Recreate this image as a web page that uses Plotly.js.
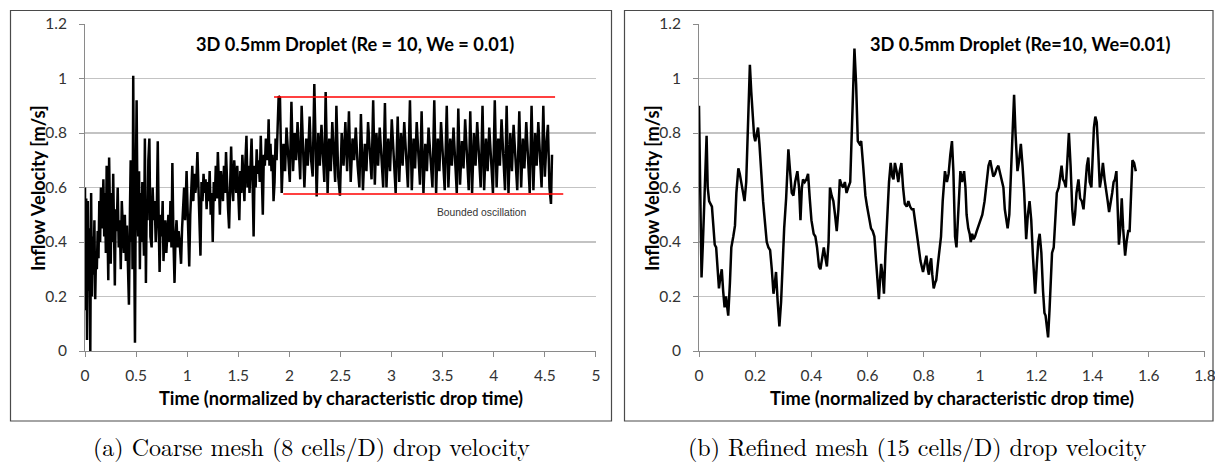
<!DOCTYPE html>
<html>
<head>
<meta charset="utf-8">
<script src="https://cdn.plot.ly/plotly-3.0.1.min.js"></script>
<style>html,body{margin:0;padding:0;background:#fff;}#chart{width:1215px;height:464px;}</style>
</head>
<body>
<div id="chart"></div>
<script>
// ---------- Data ----------
const chartTitleA = "3D 0.5mm Droplet (Re = 10, We = 0.01)";
const chartTitleB = "3D 0.5mm Droplet (Re=10, We=0.01)";
const xAxisTitle = "Time (normalized by characteristic drop time)";
const yAxisTitle = "Inflow Velocity [m/s]";
const captionA = "(a) Coarse mesh (8 cells/D) drop velocity";
const captionB = "(b) Refined mesh (15 cells/D) drop velocity";
const boundLabel = "Bounded oscillation";

const yTicks = [0, 0.2, 0.4, 0.6, 0.8, 1, 1.2];
const xTicksA = [0, 0.5, 1, 1.5, 2, 2.5, 3, 3.5, 4, 4.5, 5];
const xTicksB = [0, 0.2, 0.4, 0.6, 0.8, 1, 1.2, 1.4, 1.6, 1.8];

// Coarse mesh: time and velocity
const coarseTime = [
0.000,0.005,0.012,0.020,0.028,0.036,0.044,0.052,0.060,0.068,0.076,0.084,0.092,0.100,0.108,0.116,0.124,0.132,0.140,0.148,
0.156,0.164,0.172,0.180,0.188,0.196,0.204,0.212,0.220,0.228,0.236,0.244,0.252,0.260,0.268,0.276,0.284,0.292,0.300,0.310,
0.320,0.330,0.340,0.350,0.360,0.370,0.380,0.390,0.400,0.410,0.420,0.430,0.440,0.447,0.452,0.458,0.465,0.472,0.480,0.489,
0.497,0.505,0.513,0.521,0.529,0.537,0.545,0.553,0.561,0.569,0.577,0.586,0.596,0.604,0.612,0.620,0.630,0.640,0.652,0.662,
0.672,0.682,0.692,0.702,0.712,0.722,0.730,0.740,0.750,0.760,0.768,0.776,0.786,0.796,0.806,0.816,0.826,0.836,0.846,0.855,
0.866,0.876,0.886,0.896,0.906,0.916,0.926,0.940,0.950,0.960,0.970,0.980,0.994,1.004,1.012,1.020,1.030,1.040,1.050,1.060,
1.070,1.080,1.090,1.100,1.110,1.120,1.130,1.140,1.150,1.160,1.170,1.180,1.190,1.200,1.210,1.220,1.230,1.240,1.250,1.260,
1.270,1.280,1.290,1.300,1.310,1.320,1.330,1.340,1.350,1.360,1.370,1.380,1.390,1.400,1.410,1.420,1.430,1.440,1.450,1.460,
1.470,1.480,1.490,1.500,1.510,1.520,1.530,1.540,1.550,1.560,1.570,1.580,1.590,1.600,1.610,1.620,1.630,1.640,1.650,1.660,
1.670,1.680,1.690,1.700,1.710,1.720,1.730,1.740,1.750,1.760,1.770,1.780,1.790,1.797,1.805,1.815,1.825,1.835,1.845,1.855,
1.865,1.875,1.885,1.895,
1.908,1.925,1.942,1.958,1.972,1.988,2.004,
2.020,2.036,2.052,2.066,2.080,2.094,2.106,
2.120,2.147,2.165,2.180,2.198,2.213,2.228,
2.244,2.267,2.283,2.298,2.314,2.328,2.342,
2.355,2.374,2.390,2.405,2.420,2.435,2.448,
2.460,2.478,2.495,2.512,2.530,2.548,2.565,
2.583,2.600,2.618,2.634,2.650,2.668,2.685,
2.700,2.720,2.738,2.754,2.770,2.788,2.804,
2.820,2.836,2.852,2.868,2.884,2.900,2.918,
2.935,2.950,2.968,2.985,3.002,3.020,3.040,
3.060,3.075,3.092,3.108,3.124,3.142,3.160,
3.180,3.198,3.215,3.230,3.246,3.262,3.278,
3.294,3.312,3.330,3.346,3.362,3.380,3.400,
3.418,3.436,3.452,3.468,3.484,3.502,3.520,
3.540,3.556,3.574,3.590,3.606,3.622,3.638,
3.653,3.670,3.688,3.704,3.720,3.738,3.755,
3.770,3.788,3.806,3.822,3.838,3.855,3.872,
3.890,3.906,3.924,3.940,3.956,3.974,3.992,
4.010,4.028,4.044,4.060,4.076,4.094,4.110,
4.126,4.144,4.162,4.178,4.194,4.212,4.230,
4.250,4.268,4.285,4.300,4.318,4.336,4.352,
4.370,4.388,4.405,4.420,4.436,4.452,4.468,
4.485,4.500,4.515,4.530,4.545,4.560,4.570
];
const coarseVel = [
0.60,0.15,0.56,0.04,0.55,0.22,0.45,0.00,0.58,0.20,0.42,0.28,0.48,0.19,0.36,0.30,0.44,0.34,0.55,0.40,
0.60,0.45,0.50,0.63,0.42,0.58,0.36,0.68,0.45,0.26,0.71,0.50,0.32,0.58,0.40,0.65,0.30,0.24,0.52,0.44,
0.60,0.38,0.48,0.30,0.55,0.42,0.36,0.50,0.33,0.46,0.28,0.17,0.52,0.70,0.40,0.66,0.30,1.01,0.45,0.03,
0.60,0.92,0.55,0.42,0.66,0.30,0.58,0.40,0.62,0.45,0.35,0.78,0.25,0.55,0.48,0.70,0.78,0.42,0.38,0.60,
0.48,0.55,0.40,0.50,0.77,0.45,0.29,0.50,0.42,0.55,0.33,0.40,0.48,0.36,0.45,0.50,0.40,0.55,0.38,0.69,
0.40,0.25,0.42,0.48,0.38,0.44,0.40,0.32,0.45,0.55,0.60,0.48,0.66,0.52,0.40,0.31,0.50,0.60,0.68,0.55,
0.65,0.58,0.62,0.73,0.60,0.50,0.35,0.62,0.55,0.65,0.58,0.63,0.52,0.62,0.55,0.66,0.50,0.58,0.40,0.62,
0.55,0.68,0.56,0.73,0.58,0.50,0.66,0.60,0.55,0.68,0.58,0.73,0.60,0.52,0.45,0.65,0.75,0.60,0.55,0.70,
0.62,0.58,0.68,0.60,0.48,0.66,0.58,0.72,0.62,0.55,0.70,0.79,0.60,0.68,0.58,0.72,0.78,0.62,0.42,0.68,
0.60,0.74,0.65,0.70,0.62,0.79,0.66,0.50,0.72,0.68,0.78,0.70,0.74,0.85,0.68,0.76,0.66,0.72,0.55,0.62,
0.78,0.70,0.82,0.935,
0.93,0.58,0.76,0.66,0.82,0.70,0.62,
0.915,0.66,0.80,0.70,0.84,0.72,0.63,
0.90,0.60,0.78,0.68,0.86,0.70,0.64,
0.98,0.567,0.80,0.68,0.83,0.72,0.62,
0.95,0.58,0.78,0.66,0.84,0.70,0.62,
0.90,0.64,0.57,0.80,0.68,0.84,0.66,
0.88,0.62,0.78,0.70,0.82,0.68,0.60,
0.87,0.59,0.76,0.66,0.84,0.70,0.63,
0.92,0.61,0.80,0.68,0.82,0.72,0.60,
0.91,0.60,0.78,0.66,0.85,0.70,0.58,
0.86,0.62,0.80,0.68,0.84,0.70,0.60,
0.92,0.59,0.78,0.67,0.84,0.70,0.61,
0.88,0.58,0.76,0.66,0.82,0.70,0.60,
0.92,0.58,0.78,0.66,0.84,0.70,0.59,
0.90,0.60,0.78,0.68,0.82,0.70,0.58,
0.89,0.61,0.77,0.67,0.85,0.69,0.59,
0.88,0.58,0.80,0.68,0.84,0.72,0.60,
0.90,0.59,0.78,0.66,0.82,0.70,0.58,
0.92,0.60,0.78,0.68,0.85,0.70,0.59,
0.90,0.58,0.80,0.66,0.83,0.70,0.59,
0.88,0.60,0.78,0.67,0.84,0.70,0.58,
0.90,0.59,0.80,0.68,0.84,0.70,0.60,
0.90,0.64,0.76,0.83,0.60,0.54,0.72
];

// Refined mesh: time and velocity
const refinedTime = [
0.000,0.004,0.009,0.014,0.019,0.023,0.027,0.031,0.036,0.041,0.046,0.051,0.056,0.061,0.066,0.071,0.076,0.081,0.086,0.091,
0.096,0.100,0.104,0.110,0.115,0.122,0.128,0.133,0.140,0.145,0.150,0.156,0.162,0.168,0.174,0.181,0.186,0.191,0.196,0.200,
0.205,0.210,0.215,0.222,0.228,0.234,0.241,0.247,0.253,0.259,0.265,0.270,0.274,0.280,0.286,0.292,0.297,0.303,0.310,0.318,
0.324,0.330,0.336,0.342,0.350,0.356,0.361,0.366,0.370,0.376,0.382,0.388,0.394,0.400,0.408,0.414,0.420,0.427,0.432,0.438,
0.444,0.450,0.455,0.461,0.466,0.472,0.478,0.484,0.490,0.496,0.501,0.507,0.513,0.519,0.525,0.531,0.538,0.545,0.553,0.559,
0.565,0.571,0.577,0.584,0.592,0.598,0.605,0.612,0.618,0.624,0.630,0.636,0.640,0.644,0.648,0.653,0.658,0.663,0.669,0.676,
0.682,0.688,0.692,0.697,0.703,0.709,0.714,0.720,0.726,0.732,0.739,0.745,0.751,0.757,0.763,0.770,0.779,0.788,0.797,0.803,
0.809,0.814,0.818,0.822,0.826,0.830,0.835,0.840,0.844,0.850,0.856,0.861,0.867,0.875,0.882,0.888,0.894,0.900,0.905,0.911,
0.916,0.921,0.925,0.930,0.936,0.943,0.948,0.952,0.958,0.963,0.967,0.972,0.977,0.982,0.988,0.995,1.000,1.008,1.016,1.024,
1.030,1.036,1.042,1.047,1.053,1.059,1.065,1.071,1.077,1.083,1.088,1.093,1.098,1.104,1.110,1.116,1.121,1.126,1.133,1.139,
1.145,1.151,1.157,1.164,1.170,1.176,1.182,1.188,1.196,1.202,1.207,1.212,1.218,1.224,1.229,1.233,1.238,1.242,1.247,1.252,
1.256,1.262,1.268,1.273,1.280,1.285,1.290,1.295,1.300,1.305,1.310,1.316,1.322,1.328,1.333,1.338,1.343,1.350,1.356,1.362,
1.368,1.374,1.380,1.385,1.390,1.396,1.401,1.405,1.410,1.415,1.420,1.426,1.432,1.437,1.443,1.448,1.454,1.459,1.465,1.470,
1.475,1.480,1.485,1.490,1.494,1.499,1.504,1.509,1.516,1.521,1.527,1.532,1.537,1.542,1.548,1.554
];
const refinedVel = [
0.90,0.55,0.27,0.40,0.55,0.72,0.79,0.60,0.55,0.54,0.53,0.46,0.39,0.38,0.30,0.23,0.27,0.30,0.22,0.16,
0.20,0.15,0.13,0.25,0.38,0.42,0.46,0.58,0.67,0.65,0.62,0.58,0.55,0.62,0.85,1.05,0.95,0.86,0.79,0.77,
0.79,0.82,0.76,0.62,0.55,0.48,0.40,0.38,0.37,0.30,0.21,0.25,0.29,0.18,0.09,0.18,0.32,0.45,0.56,0.74,
0.66,0.58,0.57,0.62,0.66,0.60,0.48,0.60,0.63,0.62,0.63,0.65,0.56,0.48,0.43,0.42,0.38,0.31,0.30,0.35,
0.38,0.34,0.31,0.40,0.60,0.57,0.55,0.50,0.44,0.52,0.63,0.61,0.60,0.62,0.58,0.60,0.62,0.85,1.11,0.98,
0.77,0.76,0.77,0.68,0.57,0.53,0.49,0.45,0.44,0.42,0.33,0.22,0.19,0.26,0.32,0.28,0.21,0.35,0.50,0.62,
0.69,0.64,0.63,0.69,0.66,0.62,0.66,0.69,0.60,0.54,0.53,0.55,0.53,0.52,0.52,0.46,0.40,0.33,0.29,0.32,
0.35,0.30,0.28,0.32,0.34,0.28,0.23,0.25,0.26,0.32,0.38,0.42,0.55,0.66,0.62,0.65,0.72,0.77,0.66,0.42,
0.38,0.47,0.55,0.66,0.62,0.66,0.60,0.50,0.45,0.43,0.40,0.43,0.41,0.42,0.44,0.46,0.47,0.50,0.55,0.62,
0.68,0.70,0.66,0.64,0.65,0.67,0.68,0.65,0.62,0.60,0.52,0.48,0.45,0.50,0.65,0.85,0.94,0.80,0.66,0.70,
0.76,0.68,0.58,0.41,0.50,0.55,0.48,0.35,0.21,0.32,0.40,0.43,0.36,0.22,0.14,0.13,0.08,0.05,0.15,0.28,
0.36,0.38,0.48,0.58,0.60,0.64,0.68,0.63,0.62,0.60,0.68,0.80,0.68,0.52,0.46,0.50,0.58,0.63,0.56,0.55,
0.52,0.60,0.68,0.71,0.62,0.60,0.72,0.82,0.86,0.84,0.74,0.60,0.64,0.69,0.63,0.60,0.55,0.51,0.56,0.58,
0.62,0.63,0.66,0.52,0.39,0.45,0.56,0.45,0.35,0.40,0.44,0.44,0.58,0.70,0.69,0.66
];

// Bounds drawn in red on the coarse chart
const upperBoundT = [1.85, 4.60];
const upperBoundV = [0.932, 0.932];
const lowerBoundT = [1.94, 4.68];
const lowerBoundV = [0.576, 0.576];
const boundLabelPos = [3.88, 0.51];

// ---------- Layout helpers ----------
const W = 1215, H = 464;
const px = x => x / W;
const py = y => 1 - y / H;

const gridColor = '#c3c3c3';
const axisColor = '#8a8a8a';
const tickFont = {family: 'Lato, "Open Sans", sans-serif', size: 15.5, color: '#333'};
const boldFont = {family: 'Lato, "Open Sans", sans-serif', size: 18.2, color: '#000', weight: 'bold'};

function xAxis(domain, range, tickvals) {
  return {
    domain: domain, range: range, tickvals: tickvals, ticktext: tickvals.map(String),
    showgrid: false, zeroline: false, showline: true, linecolor: axisColor, linewidth: 1,
    ticks: 'outside', ticklen: 5, tickcolor: axisColor, tickwidth: 1,
    tickfont: tickFont, ticklabelstandoff: 5, ticklabeloverflow: 'allow', fixedrange: true
  };
}
function yAxis(domain, anchor) {
  return {
    domain: domain, range: [0, 1.2], tickvals: yTicks, ticktext: yTicks.map(String), anchor: anchor,
    showgrid: true, gridcolor: gridColor, gridwidth: 1.2, zeroline: false,
    showline: true, linecolor: axisColor, linewidth: 1,
    ticks: 'outside', ticklen: 5, tickcolor: axisColor, tickwidth: 1,
    tickfont: tickFont, ticklabelstandoff: 9, ticklabeloverflow: 'allow', fixedrange: true
  };
}

const yDom = [py(351), py(24)];

const traces = [
  {x: coarseTime, y: coarseVel, xaxis: 'x', yaxis: 'y', mode: 'lines',
   line: {color: '#000', width: 2.5}, hoverinfo: 'skip', showlegend: false},
  {x: upperBoundT, y: upperBoundV, xaxis: 'x', yaxis: 'y', mode: 'lines',
   line: {color: '#ff0000', width: 1.6}, hoverinfo: 'skip', showlegend: false},
  {x: lowerBoundT, y: lowerBoundV, xaxis: 'x', yaxis: 'y', mode: 'lines',
   line: {color: '#ff0000', width: 1.6}, hoverinfo: 'skip', showlegend: false},
  {x: refinedTime, y: refinedVel, xaxis: 'x2', yaxis: 'y2', mode: 'lines',
   line: {color: '#000', width: 2.5}, hoverinfo: 'skip', showlegend: false}
];

const annText = (text, x, y, font, extra) => Object.assign({
  text: text, x: px(x), y: py(y), xref: 'paper', yref: 'paper',
  xanchor: 'center', yanchor: 'middle', showarrow: false, font: font
}, extra || {});

const captionFont = {family: '"Latin Modern Roman", "CMU Serif", "Liberation Serif", serif', size: 24, color: '#000'};

const layout = {
  width: W, height: H,
  margin: {l: 0, r: 0, t: 0, b: 0},
  paper_bgcolor: '#fff', plot_bgcolor: '#fff',
  xaxis: xAxis([px(85), px(596)], [0, 5.0005], xTicksA),
  yaxis: yAxis(yDom, 'x'),
  xaxis2: xAxis([px(699), px(1205)], [0, 1.8002], xTicksB),
  yaxis2: yAxis(yDom, 'x2'),
  shapes: [
    {type: 'rect', xref: 'paper', yref: 'paper', x0: px(10.5), x1: px(611.5), y0: py(421), y1: py(10.5),
     line: {color: '#4a4a4a', width: 1.2}, fillcolor: 'rgba(0,0,0,0)', layer: 'below'},
    {type: 'rect', xref: 'paper', yref: 'paper', x0: px(624.5), x1: px(1213), y0: py(421), y1: py(10.5),
     line: {color: '#4a4a4a', width: 1.2}, fillcolor: 'rgba(0,0,0,0)', layer: 'below'}
  ],
  annotations: [
    annText(chartTitleA, 355, 44, boldFont),
    annText(chartTitleB, 1020, 44, boldFont),
    annText(xAxisTitle, 341, 398, boldFont),
    annText(xAxisTitle, 952, 398, boldFont),
    annText(yAxisTitle, 38, 188, boldFont, {textangle: -90}),
    annText(yAxisTitle, 652, 188, boldFont, {textangle: -90}),
    {text: boundLabel, x: boundLabelPos[0], y: boundLabelPos[1], xref: 'x', yref: 'y',
     xanchor: 'center', yanchor: 'middle', showarrow: false,
     font: {family: 'Liberation Sans, Arial, sans-serif', size: 10.3, color: '#333'}},
    annText(captionA, 311, 446, captionFont),
    annText(captionB, 917, 446, captionFont)
  ]
};

Plotly.newPlot('chart', traces, layout, {staticPlot: true, displayModeBar: false});
</script>
</body>
</html>
